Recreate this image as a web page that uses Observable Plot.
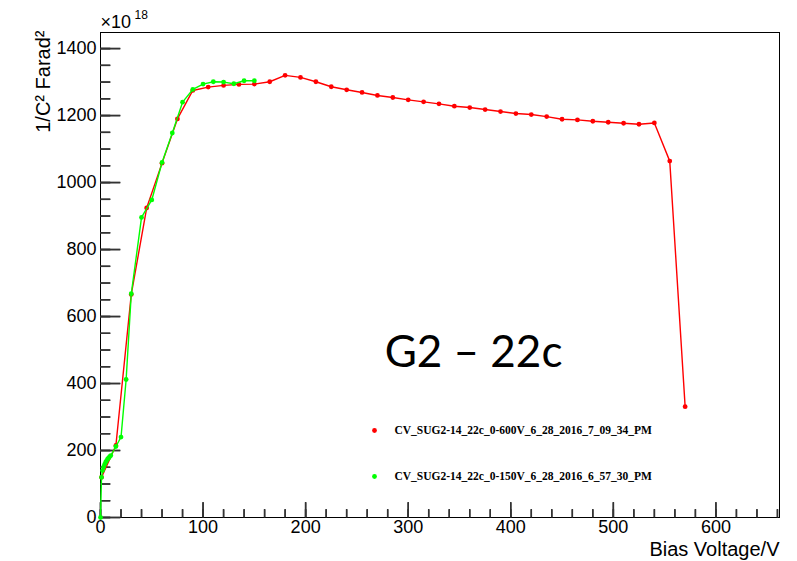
<!DOCTYPE html>
<html><head><meta charset="utf-8">
<script src="https://cdn.jsdelivr.net/npm/d3@7"></script>
<script src="https://cdn.jsdelivr.net/npm/@observablehq/plot@0.6"></script>
<style>body{margin:0;background:#fff}#chart{width:797px;height:561px}</style>
</head><body><div id="chart"></div>
<script>
// Series 1: 0-600V sweep (red)
const redVoltage = [1,15,30,45,60,75,90,105,120,135,150,165,180,195,210,225,240,255,270,285,300,315,330,345,360,375,390,405,420,435,450,465,480,495,510,525,540,555,570];
const redInvC2   = [120,215,666,924,1058,1190,1275,1285,1290,1293,1294,1301,1320,1314,1301,1286,1277,1269,1260,1254,1247,1241,1235,1228,1224,1218,1212,1206,1203,1197,1189,1187,1183,1180,1177,1174,1178,1064,331];
// Series 2: 0-150V sweep (green)
const greenVoltage = [0,1,2,3,4,5,6,7,8,9,10,15,20,25,30,40,50,60,70,80,90,100,110,120,130,140,150];
const greenInvC2   = [0,120,140,150,158,165,170,175,178,182,185,212,240,412,668,896,948,1060,1148,1240,1278,1294,1301,1300,1295,1304,1304];

const seriesNames = ["CV_SUG2-14_22c_0-600V_6_28_2016_7_09_34_PM", "CV_SUG2-14_22c_0-150V_6_28_2016_6_57_30_PM"];
const seriesColors = ["#ff0000", "#00ff00"];
const xTicks = [0,100,200,300,400,500,600];
const yTicks = [0,200,400,600,800,1000,1200,1400];
const xLabel = "Bias Voltage/V";
const yLabel = "1/C\u00b2 Farad\u00b2";
const exponentBase = "\u00d710";
const exponent = "18";
const annotation = "G2 \u2013 22c";

const W = 797, H = 561, ML = 100, MR = 18, MT = 32, MB = 44;
const xDomain = [0, 662], yDomain = [0, 1448];
const xMinor = d3.range(0, 661, 20);
const yMinor = d3.range(0, 1401, 50);
const red = redVoltage.map((v, i) => ({v, c: redInvC2[i]}));
const green = greenVoltage.map((v, i) => ({v, c: greenInvC2[i]}));
const series = [red, green];
const SANS = "'Liberation Sans', Arial, sans-serif";
// convert a tick length in pixels into data units along each axis
const pxX = (px) => px * (xDomain[1] - xDomain[0]) / (W - ML - MR);
const pxY = (px) => px * (yDomain[1] - yDomain[0]) / (H - MT - MB);
const TICK = {stroke: "#333", strokeWidth: 1.5};

const legendMarks = seriesNames.flatMap((name, i) => [
  Plot.dot([name], {frameAnchor: "top-left", dx: 274, dy: 398 + i * 46, r: 2.4, fill: seriesColors[i]}),
  Plot.text([name], {frameAnchor: "top-left", dx: 294, dy: 398 + i * 46, textAnchor: "start", lineAnchor: "middle", fontFamily: "'Liberation Serif', 'Times New Roman', serif", fontWeight: "bold", fontSize: 11.5, fill: "#000"})
]);

const chart = Plot.plot({
  width: W, height: H,
  marginLeft: ML, marginRight: MR, marginTop: MT, marginBottom: MB,
  x: {domain: xDomain},
  y: {domain: yDomain},
  marks: [
    Plot.frame({stroke: "#000"}),
    // inward ticks (ROOT style)
    Plot.axisY(yMinor, {tickSize: -10, fill: "none", ...TICK, label: null}),
    Plot.axisY(yTicks, {tickSize: -20, fill: "none", ...TICK, label: null}),
    Plot.axisX(xMinor, {tickSize: -8, fill: "none", ...TICK, label: null}),
    Plot.axisX(xTicks, {tickSize: -15, fill: "none", ...TICK, label: null}),
    Plot.link(yMinor, {x1: xDomain[0], x2: xDomain[0] + pxX(10), y1: d => d, y2: d => d, ...TICK}),
    Plot.link(yTicks, {x1: xDomain[0], x2: xDomain[0] + pxX(20), y1: d => d, y2: d => d, ...TICK}),
    Plot.link(xMinor, {y1: yDomain[0], y2: yDomain[0] + pxY(8), x1: d => d, x2: d => d, ...TICK}),
    Plot.link(xTicks, {y1: yDomain[0], y2: yDomain[0] + pxY(15), x1: d => d, x2: d => d, ...TICK}),
    // tick labels
    Plot.text(xTicks, {x: d => d, frameAnchor: "bottom", lineAnchor: "top", dy: 3, text: d => String(d), fontFamily: SANS, fontSize: 18, fill: "#000"}),
    Plot.text(yTicks, {y: d => d, frameAnchor: "left", textAnchor: "end", lineAnchor: "middle", dx: -4, text: d => String(d), fontFamily: SANS, fontSize: 18, fill: "#000"}),
    ...series.flatMap((s, i) => [
      Plot.line(s, {x: "v", y: "c", stroke: seriesColors[i], strokeWidth: 1.4}),
      Plot.dot(s, {x: "v", y: "c", r: 2.4, fill: seriesColors[i]})
    ]),
    ...legendMarks,
    Plot.text([annotation], {frameAnchor: "top-left", dx: 373, dy: 320, textAnchor: "middle", lineAnchor: "middle", fontFamily: "Lato, 'Open Sans', sans-serif", fontSize: 44, fill: "#000"}),
    Plot.text([xLabel], {frameAnchor: "bottom-right", dy: 32, textAnchor: "end", lineAnchor: "middle", fontFamily: SANS, fontSize: 20, fill: "#000"}),
    Plot.text([yLabel], {frameAnchor: "top-left", dx: -57, dy: -2, rotate: -90, textAnchor: "end", lineAnchor: "middle", fontFamily: SANS, fontSize: 20, fill: "#000"}),
    Plot.text([exponentBase], {frameAnchor: "top-left", dx: 0, dy: -10, textAnchor: "start", lineAnchor: "middle", fontFamily: SANS, fontSize: 18, fill: "#000"}),
    Plot.text([exponent], {frameAnchor: "top-left", dx: 34, dy: -17, textAnchor: "start", lineAnchor: "middle", fontFamily: SANS, fontSize: 12, fill: "#000"})
  ]
});
document.getElementById("chart").appendChild(chart);
</script>
</body></html>
